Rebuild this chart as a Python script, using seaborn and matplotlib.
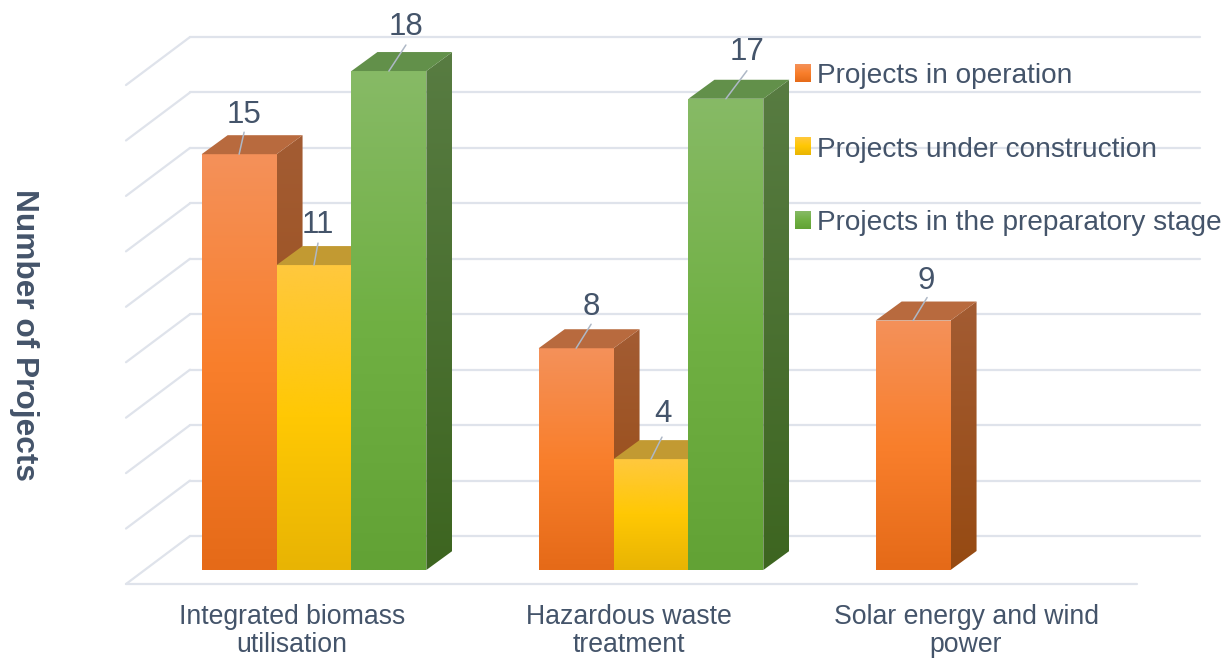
import numpy as np
import pandas as pd
import matplotlib
matplotlib.use("Agg")
import matplotlib.pyplot as plt
import seaborn as sns
from matplotlib.colors import LinearSegmentedColormap
from matplotlib.patches import Patch, Polygon

# ---- data ----
categories = ["Integrated biomass\nutilisation", "Hazardous waste\ntreatment", "Solar energy and wind\npower"]
series = ["Projects in operation", "Projects under construction", "Projects in the preparatory stage"]
in_operation = [15, 8, 9]
under_construction = [11, 4, np.nan]
preparatory = [18, 17, np.nan]
grid_values = np.arange(0, 20, 2)

# ---- styles ----
TEXT = "#44546A"
GRID = "#DFE3EB"
LEADER = "#AEB8C6"
W, H = 1223, 658
front_cols = [["#F4915A", "#F97F2C", "#E56A18"], ["#FFC83E", "#FFC803", "#E8B404"], ["#87BA66", "#70B043", "#62A235"]]
side_cols = [["#A35C33", "#964A12"], ["#A08020", "#907010"], ["#587C42", "#3D6520"]]
top_cols = ["#B86A3E", "#C29A32", "#62904A"]
mid_cols = [c[1] for c in front_cols]

# leader start is the bar top centre, offsets are px (end of line, label centre)
label_offsets = {
    (0, 0): (5, 22, 5, 39), (0, 1): (4, 22, 4, 40), (0, 2): (17, 26, 17, 44),
    (1, 0): (15, 24, 15, 41), (1, 1): (11, 22, 12, 45), (1, 2): (21, 28, 21, 47),
    (2, 0): (14, 23, 13, 40),
}

df = pd.DataFrame({
    "category": categories * 3,
    "series": np.repeat(series, 3),
    "value": in_operation + under_construction + preparatory,
})

sns.set_theme(style="white")
plt.rcParams["font.family"] = ["Liberation Sans", "DejaVu Sans"]

fig = plt.figure(figsize=(W / 100, H / 100), dpi=100)
# axes runs from the floor front line to the top of the picture
ax = fig.add_axes([126 / W, 1 - 584 / H, (1137 - 126) / W, 584 / H])
ax.patch.set_alpha(0)

sns.barplot(data=df, x="category", y="value", hue="series", hue_order=series, order=categories,
            palette=mid_cols, width=0.6667, gap=0, dodge=True, legend=False, ax=ax)

px_x = 337.0   # px per category
px_y = 27.72   # px per project
xlim = ((126 - 314) / px_x, (1137 - 314) / px_x)
ylim = (-14 / px_y, 570 / px_y)
ax.set_xlim(xlim)
ax.set_ylim(ylim)
dx, dy = 26 / px_x, 19 / px_y


def gradient(ax, clip, x0, x1, y0, y1, cols, z):
    cmap = LinearSegmentedColormap.from_list("g", cols)
    im = ax.imshow(np.linspace(0, 1, 256).reshape(-1, 1), cmap=cmap, extent=(x0, x1, y0, y1),
                   origin="upper", aspect="auto", zorder=z, clip_on=True)
    im.set_clip_path(clip)
    return im


# back wall, side wall and floor
back_x0 = (190 - 314) / px_x
back_x1 = (1200 - 314) / px_x
for v in grid_values:
    back_y = v + 34 / px_y
    ax.plot([xlim[0], back_x0], [v - 14 / px_y, back_y], color=GRID, lw=1.6, zorder=1, clip_on=False,
            solid_capstyle="round")
    ax.plot([back_x0, back_x1], [back_y, back_y], color=GRID, lw=1.6, zorder=1, clip_on=False)
ax.plot(xlim, [ylim[0], ylim[0]], color=GRID, lw=1.6, zorder=1, clip_on=False)

# front faces come from seaborn, side and top faces are built on them
for s, cont in enumerate(ax.containers):
    for c, bar in enumerate(cont.patches):
        h = bar.get_height()
        if not np.isfinite(h) or h == 0:
            bar.set_visible(False)
            continue
        x0, w = bar.get_x(), bar.get_width()
        x1 = x0 + w
        z = 3 + c * 3 + s * 0.5
        bar.set_zorder(z)
        bar.set_edgecolor("none")
        gradient(ax, bar, x0, x1, 0, h, front_cols[s], z + 0.1)
        side = Polygon([(x1, 0), (x1 + dx, dy), (x1 + dx, h + dy), (x1, h)], closed=True,
                       fc="none", ec="none", zorder=z)
        ax.add_patch(side)
        gradient(ax, side, x1, x1 + dx, 0, h + dy, side_cols[s], z + 0.1)
        ax.add_patch(Polygon([(x0, h), (x0 + dx, h + dy), (x1 + dx, h + dy), (x1, h)], closed=True,
                             fc=top_cols[s], ec="none", zorder=z + 0.1))
        lx, ly, tx, ty = label_offsets[(c, s)]
        cx = x0 + w / 2
        ax.plot([cx, cx + lx / px_x], [h, h + ly / px_y], color=LEADER, lw=1.1, zorder=30, clip_on=False)
        ax.text(cx + tx / px_x, h + ty / px_y, f"{int(h)}", color=TEXT, fontsize=22.5, ha="center",
                va="center", zorder=31)

# category labels sit under the middle of the floor, left of the bar fronts
ax.set_xticks(np.arange(len(categories)) - 22 / px_x)
ax.set_xticklabels(categories, fontsize=19.2, color=TEXT, linespacing=1.08)
ax.tick_params(axis="x", length=0, pad=14.5)
ax.set_yticks([])
ax.set_xlabel("")
ax.set_ylabel("Number of Projects", fontsize=22.8, fontweight="bold", color=TEXT, rotation=270, va="center", ha="center")
ax.yaxis.set_label_coords((24 - 126) / (1137 - 126), (584 - 335) / 584)
sns.despine(ax=ax, left=True, bottom=True)

handles = [Patch(facecolor=c, edgecolor="none") for c in mid_cols]
leg = ax.legend(handles, series, loc="upper left", bbox_to_anchor=(795 / W, 1 - 63 / H),
                bbox_transform=fig.transFigure, frameon=False, fontsize=20.15, labelcolor=TEXT,
                handlelength=0.54, handleheight=0.57, handletextpad=0.25, labelspacing=1.7,
                borderpad=0, borderaxespad=0)
leg.set_zorder(40)

# legend swatches get the same vertical fade as the bars
fig.canvas.draw()
inv = ax.transData.inverted()
for s, p in enumerate(leg.get_patches()):
    bb = p.get_window_extent()
    (a0, b0), (a1, b1) = inv.transform([(bb.x0, bb.y0), (bb.x1, bb.y1)])
    gradient(ax, None, a0, a1, b0, b1, front_cols[s], 41).set_clip_on(False)
ax.set_xlim(xlim)
ax.set_ylim(ylim)

fig.savefig("out.png", dpi=100)
